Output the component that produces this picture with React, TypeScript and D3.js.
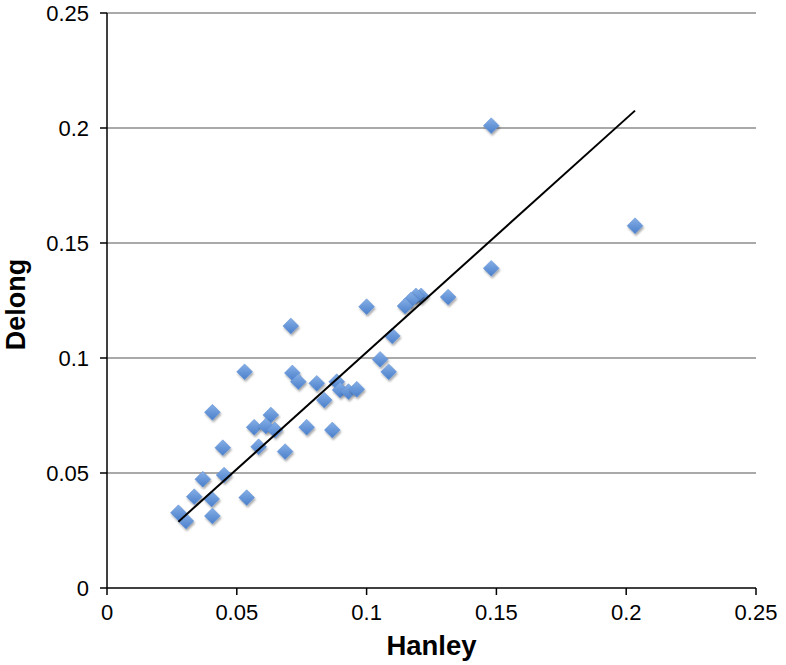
import React from 'react';
import * as d3 from 'd3';

// Hanley (x) vs Delong (y) estimates
const hanley = [
  0.148, 0.2034, 0.148, 0.1314, 0.121, 0.119, 0.1171, 0.1148, 0.1, 0.0708,
  0.1099, 0.1052, 0.1085, 0.053, 0.0714, 0.0737, 0.0808, 0.0885, 0.0898, 0.093,
  0.0962, 0.0837, 0.0406, 0.0631, 0.0567, 0.0612, 0.0647, 0.0769, 0.0868, 0.0446,
  0.0584, 0.0686, 0.0451, 0.0369, 0.0336, 0.0403, 0.0538, 0.0275, 0.0304, 0.0406,
];
const delong = [
  0.201, 0.1575, 0.139, 0.1265, 0.127, 0.127, 0.1252, 0.1226, 0.1223, 0.1139,
  0.1096, 0.0994, 0.094, 0.094, 0.0935, 0.0897, 0.089, 0.0897, 0.0861, 0.0854,
  0.0864, 0.0817, 0.0764, 0.0752, 0.0699, 0.0704, 0.0687, 0.0699, 0.0687, 0.061,
  0.0614, 0.0593, 0.0491, 0.0473, 0.0397, 0.0387, 0.0393, 0.0327, 0.0291, 0.0313,
];

const xTicks = [0, 0.05, 0.1, 0.15, 0.2, 0.25];
const yTicks = [0, 0.05, 0.1, 0.15, 0.2, 0.25];

// linear trendline
const trendSlope = 1.016;
const trendIntercept = 0.0009;

const width = 786;
const height = 665;
const margin = { left: 107, right: 30, top: 13, bottom: 77 };

export default function App() {
  const x = d3.scaleLinear().domain([0, 0.25]).range([margin.left, width - margin.right]);
  const y = d3.scaleLinear().domain([0, 0.25]).range([height - margin.bottom, margin.top]);

  const points = hanley.map((h, i) => ({ h, d: delong[i] }));
  const [xMin, xMax] = d3.extent(hanley) as [number, number];
  const trend = [xMin, xMax].map((v) => [x(v), y(trendIntercept + trendSlope * v)] as [number, number]);
  const line = d3.line();

  const diamond = d3.symbol().type(d3.symbolDiamond2).size(160)();
  const font = 'Liberation Sans, Arial, Helvetica, sans-serif';
  const fmt = (v: number) => (v === 0 ? '0' : String(v));

  return (
    <svg
      width={width}
      height={height}
      style={{ position: 'absolute', left: 0, top: 0, background: '#fff' }}
      fontFamily={font}
    >
      <defs>
        <linearGradient id="mk" x1="0" y1="0" x2="0" y2="1">
          <stop offset="0%" stopColor="#86afe6" />
          <stop offset="100%" stopColor="#4a7fcb" />
        </linearGradient>
        <filter id="sh" x="-50%" y="-50%" width="200%" height="200%">
          <feDropShadow dx="1" dy="2" stdDeviation="1.3" floodColor="#000" floodOpacity="0.35" />
        </filter>
      </defs>

      {/* gridlines */}
      {yTicks.filter((t) => t > 0).map((t) => (
        <line key={'g' + t} x1={x(0)} x2={x(0.25)} y1={y(t)} y2={y(t)} stroke="#8c8c8c" strokeWidth={1.5} />
      ))}

      {/* axes */}
      <line x1={x(0)} x2={x(0)} y1={y(0)} y2={y(0.25)} stroke="#000" strokeWidth={1.5} />
      <line x1={x(0)} x2={x(0.25)} y1={y(0)} y2={y(0)} stroke="#000" strokeWidth={1.5} />
      {yTicks.map((t) => (
        <g key={'y' + t}>
          <line x1={x(0) - 7} x2={x(0)} y1={y(t)} y2={y(t)} stroke="#000" strokeWidth={1.5} />
          <text x={x(0) - 18} y={y(t)} dy="0.35em" textAnchor="end" fontSize={22}>{fmt(t)}</text>
        </g>
      ))}
      {xTicks.map((t) => (
        <g key={'x' + t}>
          <line x1={x(t)} x2={x(t)} y1={y(0)} y2={y(0) + 7} stroke="#000" strokeWidth={1.5} />
          <text x={x(t)} y={620} textAnchor="middle" fontSize={22}>{fmt(t)}</text>
        </g>
      ))}

      {/* points */}
      {points.map((p, i) => (
        <path
          key={i}
          d={diamond}
          transform={`translate(${x(p.h)},${y(p.d)})`}
          fill="url(#mk)"
          stroke="#5f8fd3"
          strokeWidth={0.5}
          filter="url(#sh)"
        />
      ))}

      {/* trendline */}
      <path d={line(trend) || ''} stroke="#000" strokeWidth={2} fill="none" />

      {/* axis titles */}
      <text x={(x(0) + x(0.25)) / 2} y={655} textAnchor="middle" fontSize={27.5} fontWeight="bold">Hanley</text>
      <text transform={`translate(25,${(y(0) + y(0.25)) / 2 + 4}) rotate(-90)`} textAnchor="middle" fontSize={27} fontWeight="bold">Delong</text>
    </svg>
  );
}
